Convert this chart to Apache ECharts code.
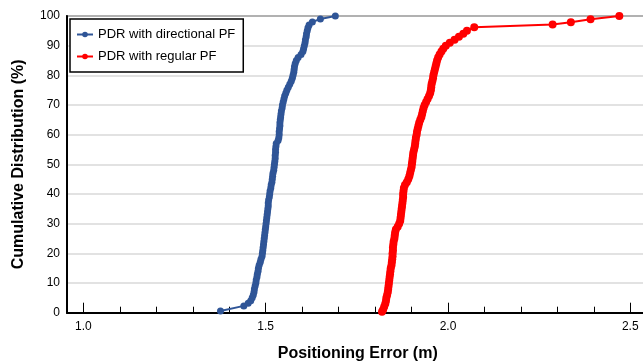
<!DOCTYPE html>
<html>
<head>
<meta charset="utf-8">
<script src="https://cdn.jsdelivr.net/npm/echarts@6/dist/echarts.min.js"></script>
<style>
html,body{margin:0;padding:0;background:#fff;}
#chart{width:643px;height:363px;}
</style>
</head>
<body>
<div id="chart"></div>
<script>
// Series names
const seriesNames = ['PDR with directional PF', 'PDR with regular PF'];

// Directional PF: positioning error (m) and cumulative distribution (%)
const dirX = [1.376,1.440,1.452,1.459,1.463,1.466,1.468,1.469,1.471,1.473,1.474,1.476,1.477,1.479,1.480,1.482,1.485,1.487,1.490,1.491,1.492,1.493,1.494,1.495,1.496,1.497,1.498,1.499,1.500,1.501,1.502,1.503,1.504,1.505,1.506,1.507,1.507,1.508,1.510,1.511,1.512,1.514,1.515,1.517,1.518,1.519,1.520,1.522,1.523,1.524,1.525,1.526,1.526,1.527,1.527,1.528,1.529,1.534,1.536,1.537,1.537,1.538,1.539,1.539,1.540,1.541,1.542,1.543,1.545,1.546,1.548,1.550,1.552,1.555,1.558,1.562,1.566,1.570,1.573,1.575,1.577,1.578,1.579,1.581,1.584,1.589,1.597,1.602,1.604,1.606,1.608,1.609,1.611,1.612,1.614,1.616,1.619,1.628,1.650,1.691];
const dirY = [0.6,2.3,3.2,4,5,6,7,8,9,10,11,12,13,14,15,16,17,18,19,20,21,22,23,24,25,26,27,28,29,30,31,32,33,34,35,36,37,38,39,40,41,42,43,44,45,46,47,48,49,50,51,52,53,54,55,56,57,58,59,60,61,62,63,64,65,66,67,68,69,70,71,72,73,74,75,76,77,78,79,80,81,82,83,84,85,86,87,88,89,90,91,92,93,94,95,96,97,98,99,100];

// Regular PF
const regX = [1.819,1.822,1.825,1.828,1.830,1.831,1.833,1.835,1.836,1.837,1.838,1.839,1.840,1.841,1.842,1.843,1.845,1.846,1.847,1.848,1.848,1.849,1.849,1.850,1.851,1.853,1.854,1.855,1.857,1.862,1.866,1.869,1.870,1.871,1.872,1.873,1.874,1.875,1.876,1.877,1.877,1.878,1.879,1.882,1.887,1.891,1.894,1.896,1.898,1.900,1.901,1.902,1.903,1.904,1.905,1.907,1.909,1.910,1.911,1.912,1.914,1.915,1.917,1.919,1.921,1.924,1.927,1.929,1.931,1.933,1.936,1.940,1.944,1.948,1.951,1.953,1.954,1.955,1.957,1.959,1.960,1.962,1.964,1.966,1.968,1.970,1.973,1.977,1.982,1.987,1.994,2.005,2.018,2.030,2.042,2.052,2.072,2.287,2.337,2.391,2.470];
const regY = [0.3,1,2,3,4,5,6,7,8,9,10,11,12,13,14,15,16,17,18,19,20,21,22,23,24,25,26,27,28,29,30,31,32,33,34,35,36,37,38,39,40,41,42,43,44,45,46,47,48,49,50,51,52,53,54,55,56,57,58,59,60,61,62,63,64,65,66,67,68,69,70,71,72,73,74,75,76,77,78,79,80,81,82,83,84,85,86,87,88,89,90,91,92,93,94,95,96.2,97.1,97.9,98.9,100];

// Axis ticks
const xMajorTicks = [1.0, 1.5, 2.0, 2.5];
const xMinorTicks = [1.0,1.1,1.2,1.3,1.4,1.5,1.6,1.7,1.8,1.9,2.0,2.1,2.2,2.3,2.4,2.5];
const yTicks = [0,10,20,30,40,50,60,70,80,90,100];

const xTitle = 'Positioning Error (m)';
const yTitle = 'Cumulative Distribution (%)';

const pairs = (xs, ys) => xs.map((x, i) => [x, ys[i]]);

const chart = echarts.init(document.getElementById('chart'), null, {renderer: 'canvas'});
const FONT = '"Liberation Sans", Arial, sans-serif';
const xMin = 0.955, xMax = 2.55;

chart.setOption({
  animation: false,
  backgroundColor: '#ffffff',
  grid: {
    left: 67, top: 16, width: 581.5, height: 296.7,
    outerBoundsMode: 'none', containLabel: false,
    show: true, borderColor: '#000', borderWidth: 1.5, backgroundColor: 'transparent'
  },
  legend: {
    orient: 'vertical',
    left: 70, top: 19,
    backgroundColor: '#fff',
    borderColor: '#000', borderWidth: 1.5, borderRadius: 0,
    padding: [9, 8, 9, 6],
    itemGap: 9,
    itemWidth: 16, itemHeight: 7,
    textStyle: {fontFamily: FONT, fontSize: 13, color: '#000'},
    data: seriesNames
  },
  xAxis: [{
    type: 'value', min: xMin, max: xMax,
    name: xTitle, nameLocation: 'middle', nameGap: 33,
    nameTextStyle: {fontFamily: FONT, fontSize: 16, fontWeight: 'bold', color: '#000'},
    axisLine: {show: true, lineStyle: {color: '#000', width: 2}},
    axisTick: {show: true, inside: true, length: 10, customValues: xMajorTicks, lineStyle: {color: '#000', width: 1}},
    axisLabel: {customValues: xMajorTicks, formatter: v => v.toFixed(1), fontFamily: FONT, fontSize: 12, color: '#000', margin: 8},
    splitLine: {show: false}
  }, {
    type: 'value', min: xMin, max: xMax, position: 'bottom',
    axisLine: {show: false},
    axisTick: {show: true, inside: true, length: 6, customValues: xMinorTicks, lineStyle: {color: '#000', width: 1}},
    axisLabel: {show: false},
    splitLine: {show: false}
  }],
  yAxis: {
    type: 'value', min: 0, max: 100, interval: 10,
    name: yTitle, nameLocation: 'middle', nameGap: 40,
    nameTextStyle: {fontFamily: FONT, fontSize: 16, fontWeight: 'bold', color: '#000'},
    axisLine: {show: true, lineStyle: {color: '#000', width: 2}},
    axisTick: {show: false},
    axisLabel: {fontFamily: FONT, fontSize: 12, color: '#000', margin: 7},
    splitLine: {show: true, lineStyle: {color: '#d9d9d9', width: 1.5}}
  },
  series: [{
    name: seriesNames[0], type: 'line', xAxisIndex: 0,
    data: pairs(dirX, dirY),
    symbol: 'circle', symbolSize: 7,
    lineStyle: {color: '#2f5597', width: 2},
    itemStyle: {color: '#2f5597'},
    z: 3
  }, {
    name: seriesNames[1], type: 'line', xAxisIndex: 0,
    data: pairs(regX, regY),
    symbol: 'circle', symbolSize: 8,
    lineStyle: {color: '#ff0000', width: 2},
    itemStyle: {color: '#ff0000'},
    z: 3
  }]
});
</script>
</body>
</html>
